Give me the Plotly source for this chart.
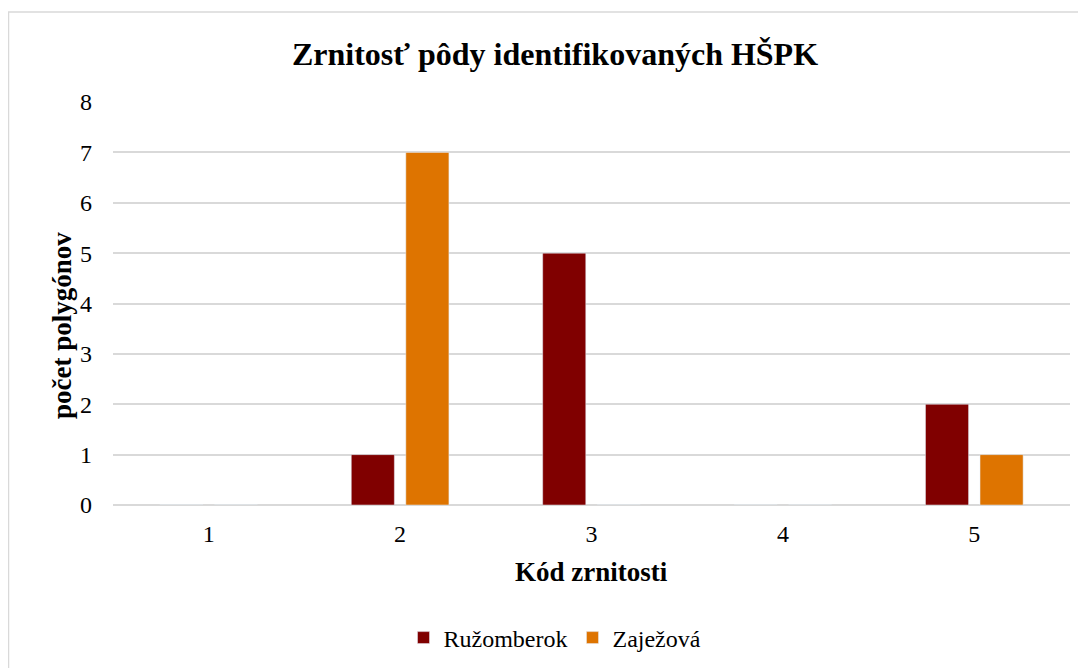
import plotly.graph_objects as go

categories = ["1", "2", "3", "4", "5"]
ruzomberok = [0, 1, 5, 0, 2]
zajezova = [0, 7, 0, 0, 1]
y_ticks = [0, 1, 2, 3, 4, 5, 6, 7, 8]

FONT = "Liberation Serif, Times New Roman, serif"

# the page body adds an 8px offset; figure coordinates are compensated
W, H = 1078, 660
L, R, T, B = 105, 16, 94, 163
PW, PH = W - L - R, H - T - B


def px(xpage):
    return (xpage - 8 - L) / PW


def py(ypage):
    return (T + PH - (ypage - 8)) / PH


fig = go.Figure()
fig.add_trace(go.Bar(name="Ružomberok", x=categories, y=ruzomberok,
                     marker=dict(color="#800000")))
fig.add_trace(go.Bar(name="Zaježová", x=categories, y=zajezova,
                     marker=dict(color="#DE7400")))

fig.update_layout(
    width=W, height=H,
    margin=dict(l=L, r=R, t=T, b=B, autoexpand=False),
    paper_bgcolor="white", plot_bgcolor="white",
    font=dict(family=FONT, size=24, color="#000000"),
    title=dict(text="<b>Zrnitosť pôdy identifikovaných HŠPK</b>",
               x=px(555), xanchor="center", xref="paper", y=1 - 46 / H, yanchor="middle",
               font=dict(family=FONT, size=32, color="#000000")),
    barmode="group", bargap=0.43, bargroupgap=0.21,
    showlegend=True,
    legend=dict(orientation="h", x=px(555), xanchor="center", y=py(638), yanchor="middle",
                font=dict(family=FONT, size=24), traceorder="normal"),
    xaxis=dict(type="category", showgrid=False, showline=False, ticks="",
               automargin=False, ticklabelstandoff=12, tickfont=dict(family=FONT, size=24)),
    yaxis=dict(range=[0, 8], tickvals=y_ticks, showgrid=True, gridcolor="#d9d9d9",
               gridwidth=1.5, zeroline=True, zerolinecolor="#d9d9d9", zerolinewidth=1.5,
               automargin=False, ticks="", ticklabelstandoff=20,
               tickfont=dict(family=FONT, size=24)),
    annotations=[
        dict(text="<b>Kód zrnitosti</b>", xref="paper", yref="paper",
             x=px(591), y=py(572), xanchor="center", yanchor="middle", showarrow=False,
             font=dict(family=FONT, size=27)),
        dict(text="<b>počet polygónov</b>", xref="paper", yref="paper", textangle=-90,
             x=px(62), y=py(326), xanchor="center", yanchor="middle", showarrow=False,
             font=dict(family=FONT, size=27)),
    ],
    shapes=[
        dict(type="line", xref="paper", yref="paper",
             x0=px(8), x1=px(1090), y0=py(12), y1=py(12),
             line=dict(color="#d9d9d9", width=1.5), layer="below"),
        dict(type="line", xref="paper", yref="paper",
             x0=px(8.5), x1=px(8.5), y0=py(12), y1=py(672),
             line=dict(color="#d9d9d9", width=1.5), layer="below"),
    ],
)

fig.write_html("out.html")
